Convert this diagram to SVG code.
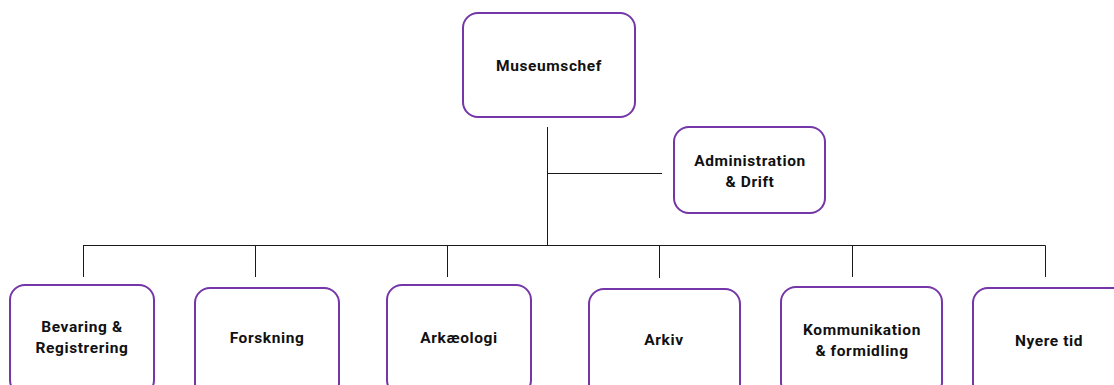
<svg xmlns="http://www.w3.org/2000/svg" width="1114" height="385" viewBox="0 0 1114 385">
<style>
.box{fill:#fff;stroke:#7436A8;stroke-width:2}
.t{font-family:Roboto,"Liberation Sans",sans-serif;font-weight:bold;font-size:15.5px;letter-spacing:0.6px;fill:#111;text-anchor:middle;dominant-baseline:central}
.c{stroke:#1a1a1a;stroke-width:1;fill:none}
</style>
<rect width="1114" height="385" fill="#fff"/>
<g id="connectors">
<path class="c" d="M547.5 127V245.5M547.5 173.5H662M83 245.5H1045.5M83.5 245.5V277M255.5 245.5V277M447.5 245.5V277M659.5 245.5V278M852.5 245.5V277M1045.5 245.5V277"/>
</g>
<g id="museumschef"><rect class="box" x="463" y="13" width="172" height="104" rx="15"/><text class="t" x="549" y="66">Museumschef</text></g>
<g id="administration"><rect class="box" x="674" y="127" width="151" height="86" rx="15"/><text class="t" x="750" y="161">Administration</text><text class="t" x="750" y="182">&amp; Drift</text></g>
<g id="bevaring"><rect class="box" x="10" y="285" width="144" height="110" rx="15"/><text class="t" x="82" y="327">Bevaring &amp;</text><text class="t" x="82" y="348">Registrering</text></g>
<g id="forskning"><rect class="box" x="195" y="288" width="144" height="110" rx="15"/><text class="t" x="267" y="338">Forskning</text></g>
<g id="arkaeologi"><rect class="box" x="387" y="285" width="144" height="110" rx="15"/><text class="t" x="459" y="338">Arkæologi</text></g>
<g id="arkiv"><rect class="box" x="589" y="289" width="151" height="110" rx="15"/><text class="t" x="664" y="340">Arkiv</text></g>
<g id="kommunikation"><rect class="box" x="781" y="287" width="161" height="110" rx="15"/><text class="t" x="862" y="330">Kommunikation</text><text class="t" x="862" y="351">&amp; formidling</text></g>
<g id="nyeretid"><rect class="box" x="973" y="288" width="160" height="110" rx="15"/><text class="t" x="1049" y="341">Nyere tid</text></g>
</svg>
